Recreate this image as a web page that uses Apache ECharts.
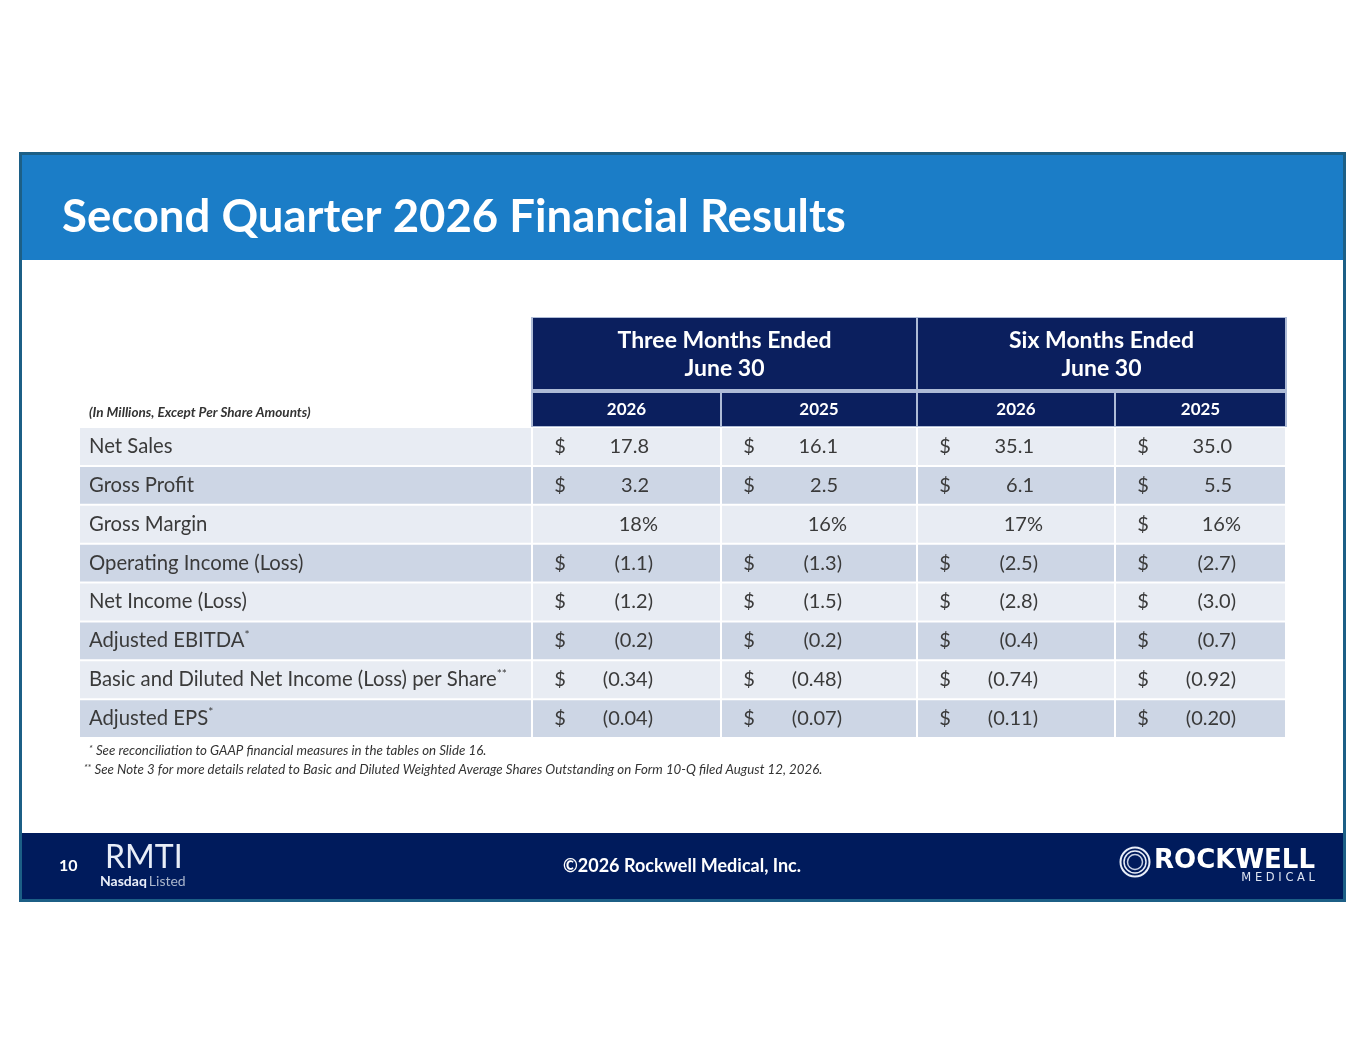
<!DOCTYPE html>
<html><head><meta charset="utf-8">
<script src="https://cdn.jsdelivr.net/npm/echarts@6/dist/echarts.min.js"></script>
<style>html,body{margin:0;padding:0;background:#fff}#c{width:1365px;height:1055px}</style>
</head><body><div id="c"></div>
<script>
// ---- data ----
const titleText = 'Second Quarter 2026 Financial Results';
const unitNote = '(In Millions, Except Per Share Amounts)';
const periodHeaders = ['Three Months Ended\nJune 30', 'Six Months Ended\nJune 30'];
const yearHeaders = ['2026', '2025', '2026', '2025'];
const rowLabels = ['Net Sales', 'Gross Profit', 'Gross Margin', 'Operating Income (Loss)', 'Net Income (Loss)', 'Adjusted EBITDA', 'Basic and Diluted Net Income (Loss) per Share', 'Adjusted EPS'];
const rowMarks = ['', '', '', '', '', '*', '**', '*'];
const rowIsPercent = [false, false, true, false, false, false, false, false];
const rowDecimals = [1, 1, 0, 1, 1, 1, 2, 2];
const threeMonths2026 = [17.8, 3.2, 18, -1.1, -1.2, -0.2, -0.34, -0.04];
const threeMonths2025 = [16.1, 2.5, 16, -1.3, -1.5, -0.2, -0.48, -0.07];
const sixMonths2026 = [35.1, 6.1, 17, -2.5, -2.8, -0.4, -0.74, -0.11];
const sixMonths2025 = [35.0, 5.5, 16, -2.7, -3.0, -0.7, -0.92, -0.20];
const percentRowDollar = [false, false, false, true];
const footnotes = ['See reconciliation to GAAP financial measures in the tables on Slide 16.', 'See Note 3 for more details related to Basic and Diluted Weighted Average Shares Outstanding on Form 10-Q filed August 12, 2026.'];
const footnoteMarks = ['*', '**'];
const pageNumber = '10';
const tickerText = 'RMTI';
const copyrightText = '\u00A92026 Rockwell Medical, Inc.';

// ---- layout ----
const FONT = 'Lato, "Open Sans", sans-serif';
const GRID_LEFT = 79, GRID_TOP = 427, GRID_W = 1207, GRID_H = 311;
const colEdges = [0, 453, 642, 838, 1036, 1207];
const NAVY = '#0b1f5e', FOOT = '#001b5c', BLUE = '#1b7dc7', FRAME = '#1c5f86';
const TXT = '#3a3a3a';
const columns = [threeMonths2026, threeMonths2025, sixMonths2026, sixMonths2025];

function fmt(v, d, pct) {
  if (pct) return v.toFixed(d) + '%';
  return v < 0 ? '(' + Math.abs(v).toFixed(d) + ')' : v.toFixed(d);
}

const cells = [];
rowLabels.forEach((_, r) => { for (let c = 0; c < 5; c++) cells.push([c, r]); });

const graphics = [];
// frame
graphics.push({type: 'rect', shape: {x: 20.5, y: 153.5, width: 1324, height: 747}, style: {fill: '#fff', stroke: FRAME, lineWidth: 3}, z: 0});
graphics.push({type: 'rect', shape: {x: 22, y: 155, width: 1321, height: 105}, style: {fill: BLUE}, z: 1});
graphics.push({type: 'text', style: {x: 62, y: 217, text: titleText, fill: '#fff', font: 'bold 45.5px ' + FONT, textVerticalAlign: 'middle'}, z: 2});
// footer
graphics.push({type: 'rect', shape: {x: 22, y: 833, width: 1321, height: 66}, style: {fill: FOOT}, z: 1});
graphics.push({type: 'text', style: {x: 59, y: 866, text: pageNumber, fill: '#fff', font: 'bold 16px ' + FONT, textVerticalAlign: 'middle'}, z: 2});
graphics.push({type: 'text', style: {x: 105, y: 858, text: tickerText, fill: '#e8eef8', font: '32px ' + FONT, textVerticalAlign: 'middle'}, z: 2});
graphics.push({type: 'text', style: {x: 100, y: 881, text: '{b|Nasdaq}{l|Listed}', textVerticalAlign: 'middle',
  rich: {b: {fill: '#e8eef8', font: 'bold 14px ' + FONT}, l: {fill: '#aab6cc', font: '14px ' + FONT, padding: [0, 0, 0, 2]}}}, z: 2});
graphics.push({type: 'text', style: {x: 682, y: 866, text: copyrightText, fill: '#fff', font: 'bold 18px ' + FONT, textAlign: 'center', textVerticalAlign: 'middle'}, z: 2});
// logo rings
[14.5, 11, 7.5].forEach((rad, i) => graphics.push({type: 'circle', shape: {cx: 1135, cy: 862, r: rad}, style: {fill: 'none', stroke: i === 2 ? '#c9d3e6' : '#e8eef8', lineWidth: i === 0 ? 2 : 1.5}, z: 2}));
graphics.push({type: 'text', style: {x: 1315, y: 861, text: 'ROCKWELL', fill: '#fff', font: 'bold 26px "DejaVu Sans", sans-serif', textAlign: 'right', textVerticalAlign: 'middle'}, z: 2});
graphics.push({type: 'text', style: {x: 1315, y: 878, text: 'M E D I C A L', fill: '#dfe6f2', font: '11.5px "DejaVu Sans", sans-serif', textAlign: 'right', textVerticalAlign: 'middle'}, z: 2});
// header backing
const hx0 = GRID_LEFT + colEdges[1] - 1, hx1 = GRID_LEFT + colEdges[5] + 1;
graphics.push({type: 'rect', shape: {x: hx0, y: 317, width: hx1 - hx0, height: GRID_TOP - 317}, style: {fill: '#aebbd6'}, z: 2});
periodHeaders.forEach((t, p) => {
  const x0 = GRID_LEFT + colEdges[1 + 2 * p], x1 = GRID_LEFT + colEdges[3 + 2 * p];
  graphics.push({type: 'rect', shape: {x: x0 + 1, y: 318, width: x1 - x0 - 2, height: 71}, style: {fill: NAVY}, z: 3});
  graphics.push({type: 'text', style: {x: (x0 + x1) / 2, y: 355, text: t, fill: '#fff', font: 'bold 23px ' + FONT, lineHeight: 28, textAlign: 'center', textVerticalAlign: 'middle'}, z: 4});
});
yearHeaders.forEach((t, i) => {
  const x0 = GRID_LEFT + colEdges[i + 1], x1 = GRID_LEFT + colEdges[i + 2];
  graphics.push({type: 'rect', shape: {x: x0 + 1, y: 393, width: x1 - x0 - 2, height: 33}, style: {fill: NAVY}, z: 3});
  graphics.push({type: 'text', style: {x: (x0 + x1) / 2, y: 410, text: t, fill: '#fff', font: 'bold 17px ' + FONT, textAlign: 'center', textVerticalAlign: 'middle'}, z: 4});
});
graphics.push({type: 'text', style: {x: 89, y: 413, text: unitNote, fill: '#333', font: 'italic bold 13.5px ' + FONT, textVerticalAlign: 'middle'}, z: 2});
footnotes.forEach((t, i) => {
  graphics.push({type: 'text', style: {x: i === 0 ? 89 : 84, y: 751 + 19 * i, text: '{m|' + footnoteMarks[i] + '} {t|' + t + '}',
    rich: {m: {fill: '#333', font: 'italic 9px ' + FONT, verticalAlign: 'top'}, t: {fill: '#333', font: 'italic 13.3px ' + FONT}}, textVerticalAlign: 'middle'}, z: 2});
});

const option = {
  backgroundColor: '#fff',
  animation: false,
  grid: {left: GRID_LEFT, top: GRID_TOP, width: GRID_W, height: GRID_H},
  xAxis: {type: 'value', min: 0, max: GRID_W, show: false},
  yAxis: {type: 'category', data: rowLabels, inverse: true, show: false},
  graphic: graphics,
  series: [{
    type: 'custom',
    z: 5,
    data: cells,
    renderItem(params, api) {
      const c = api.value(0), r = api.value(1);
      const p0 = api.coord([colEdges[c], r]);
      const p1 = api.coord([colEdges[c + 1], r]);
      const h = api.size([0, 1])[1];
      const x0 = p0[0], x1 = p1[0], yc = p0[1], y0 = yc - h / 2;
      const fill = r % 2 ? '#cdd6e5' : '#e8ecf3';
      const ch = [{type: 'rect', shape: {x: x0 + 1, y: y0 + 1, width: x1 - x0 - 2, height: h - 2}, style: {fill}}];
      if (c === 0) {
        const mark = rowMarks[r];
        ch.push({type: 'text', style: {x: x0 + 10, y: yc, text: '{a|' + rowLabels[r] + '}' + (mark ? '{s|' + mark + '}' : ''),
          rich: {a: {fill: TXT, font: '20.3px ' + FONT, lineHeight: 24}, s: {fill: TXT, font: '12px ' + FONT, verticalAlign: 'top'}},
          textVerticalAlign: 'middle'}});
      } else {
        const v = columns[c - 1][r];
        const pct = rowIsPercent[r];
        const showDollar = !pct || percentRowDollar[c - 1];
        if (showDollar) ch.push({type: 'text', style: {x: x0 + 28, y: yc, text: '$', fill: TXT, font: '20px ' + FONT, textAlign: 'center', textVerticalAlign: 'middle'}});
        const right = pct ? 126 : (v < 0 ? 121 : 117);
        ch.push({type: 'text', style: {x: x0 + right, y: yc, text: fmt(v, rowDecimals[r], pct), fill: TXT, font: '20px ' + FONT, textAlign: 'right', textVerticalAlign: 'middle'}});
      }
      return {type: 'group', children: ch};
    }
  }]
};
const chart = echarts.init(document.getElementById('c'), null, {renderer: 'canvas'});
chart.setOption(option);
</script></body></html>
